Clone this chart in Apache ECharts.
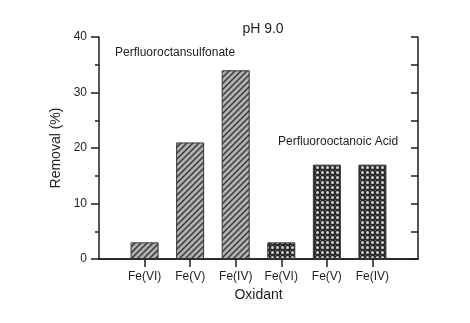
<!DOCTYPE html>
<html>
<head>
	<meta charset="utf-8">
	<script type="text/javascript" src="https://cdn.jsdelivr.net/npm/echarts@6/dist/echarts.min.js"></script>
	<style>
		body { margin: 0; background: #fff; }
	</style>
</head>
<body>
	<div id="main" style="width: 470px; height: 323px;"></div>

	<script type="text/javascript">

		// x positions 0..7, bars sit on 1..6
		var oxidants = ['', 'Fe(VI)', 'Fe(V)', 'Fe(IV)', 'Fe(VI)', 'Fe(V)', 'Fe(IV)', ''];
		var pfosRemoval = ['-', 3, 21, 34, '-', '-', '-', '-'];
		var pfoaRemoval = ['-', '-', '-', '-', 3, 17, 17, '-'];
		var yTicks = [0, 10, 20, 30, 40];

		var font = 'Liberation Sans, Arial, Helvetica, sans-serif';
		var ink = '#1e1e1e';

		var W = 470, H = 323;
		var gl = 99, gr = 52, gt = 37, gb = 64;

		function hatchPattern() {
			var s = 6;
			var c = document.createElement('canvas');
			c.width = s; c.height = s;
			var ctx = c.getContext('2d');
			ctx.fillStyle = '#b0b0b0';
			ctx.fillRect(0, 0, s, s);
			ctx.strokeStyle = '#3a3a3a';
			ctx.lineWidth = 1.5;
			ctx.beginPath();
			ctx.moveTo(0, s); ctx.lineTo(s, 0);
			ctx.moveTo(-1, 1); ctx.lineTo(1, -1);
			ctx.moveTo(s - 1, s + 1); ctx.lineTo(s + 1, s - 1);
			ctx.stroke();
			return c;
		}

		function crossPattern() {
			var s = 5;
			var c = document.createElement('canvas');
			c.width = s; c.height = s;
			var ctx = c.getContext('2d');
			ctx.fillStyle = '#2a2a2a';
			ctx.fillRect(0, 0, s, s);
			ctx.fillStyle = '#cfcfcf';
			ctx.beginPath();
			ctx.arc(2.5, 2.5, 1.5, 0, Math.PI * 2);
			ctx.fill();
			ctx.fillStyle = '#777';
			ctx.fillRect(0, 0, 1, 1);
			return c;
		}

		var chart = echarts.init(document.getElementById('main'));

		var onBars = function (index) { return index > 0 && index < oxidants.length - 1; };
		var axisLine = { show: true, lineStyle: { color: ink, width: 1.5 } };
		var tickLine = { color: ink, width: 1.5 };

		chart.setOption({
			animation: false,
			backgroundColor: '#fff',
			title: {
				text: 'pH 9.0',
				left: 258,
				top: 17,
				textAlign: 'center',
				textStyle: { fontFamily: font, fontSize: 14, fontWeight: 'normal', color: ink }
			},
			grid: { left: gl, right: gr, top: gt, bottom: gb },
			graphic: [
				{ type: 'text', left: 115, top: 47, style: { text: 'Perfluoroctansulfonate', font: '12px ' + font, fill: ink } },
				{ type: 'text', left: 278, top: 136, style: { text: 'Perfluorooctanoic Acid', font: '12px ' + font, fill: ink } }
			],
			xAxis: [{
				type: 'category',
				data: oxidants,
				boundaryGap: false,
				position: 'bottom',
				name: 'Oxidant',
				nameLocation: 'middle',
				nameGap: 29,
				nameTextStyle: { fontFamily: font, fontSize: 14, color: ink },
				axisLine: axisLine,
				axisTick: { show: true, length: 8, interval: onBars, lineStyle: tickLine },
				axisLabel: { interval: 0, margin: 12, fontFamily: font, fontSize: 12, color: ink },
				splitLine: { show: false }
			}, {
				// frame top: a bottom-type axis shifted up to the grid top, so ticks point down
				type: 'category',
				data: oxidants,
				boundaryGap: false,
				position: 'bottom',
				offset: -(H - gt - gb),
				axisLine: axisLine,
				axisTick: { show: true, length: 8, interval: onBars, lineStyle: tickLine },
				axisLabel: { show: false },
				splitLine: { show: false }
			}],
			yAxis: [{
				type: 'value',
				min: yTicks[0],
				max: yTicks[yTicks.length - 1],
				interval: 10,
				position: 'left',
				name: 'Removal (%)',
				nameLocation: 'middle',
				nameGap: 30,
				nameTextStyle: { fontFamily: font, fontSize: 14, color: ink },
				axisLine: axisLine,
				axisTick: { show: true, length: 8, lineStyle: tickLine },
				minorTick: { show: true, splitNumber: 2, length: 4, lineStyle: tickLine },
				axisLabel: { margin: 12, fontFamily: font, fontSize: 12, color: ink },
				splitLine: { show: false }
			}, {
				// frame right: a left-type axis shifted to the grid right, so ticks point inward
				type: 'value',
				min: 0,
				max: 40,
				interval: 5,
				position: 'left',
				offset: -(W - gl - gr),
				axisLine: axisLine,
				axisTick: { show: true, length: 7, lineStyle: tickLine },
				axisLabel: { show: false },
				splitLine: { show: false }
			}],
			series: [{
				name: 'Perfluoroctansulfonate',
				type: 'bar',
				data: pfosRemoval,
				barWidth: 28,
				barGap: '-100%',
				itemStyle: {
					color: { image: hatchPattern(), repeat: 'repeat' },
					borderColor: '#333',
					borderWidth: 1
				}
			}, {
				name: 'Perfluorooctanoic Acid',
				type: 'bar',
				data: pfoaRemoval,
				barWidth: 28,
				barGap: '-100%',
				itemStyle: {
					color: { image: crossPattern(), repeat: 'repeat' },
					borderColor: '#333',
					borderWidth: 1
				}
			}]
		});

	</script>
</body>
</html>
